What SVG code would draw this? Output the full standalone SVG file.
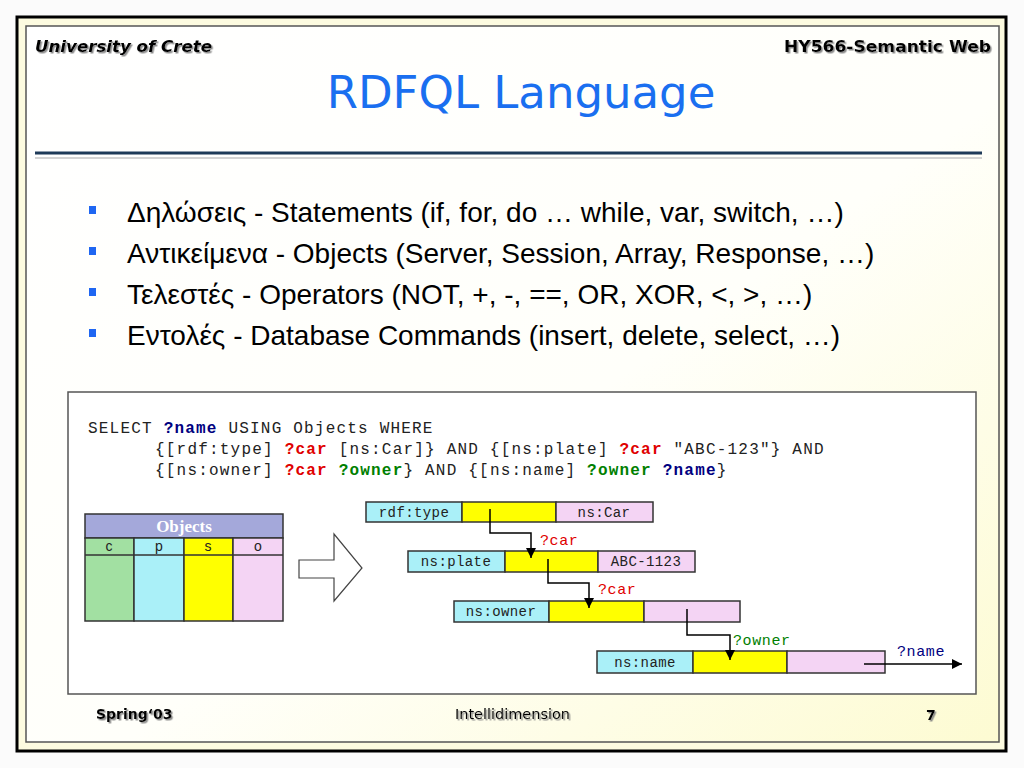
<svg xmlns="http://www.w3.org/2000/svg" width="1024" height="768" viewBox="0 0 1024 768">
<defs>
<linearGradient id="bg" x1="0" y1="0" x2="1" y2="1">
<stop offset="0" stop-color="#ffffff"/>
<stop offset="0.55" stop-color="#fffffa"/>
<stop offset="1" stop-color="#fdfbd2"/>
</linearGradient>
<filter id="sh" x="-10%" y="-30%" width="120%" height="160%">
<feDropShadow dx="1.5" dy="1.5" stdDeviation="0.6" flood-color="#808080" flood-opacity="0.9"/>
</filter>
<marker id="ah" viewBox="0 0 10 10" refX="10" refY="5" markerWidth="10" markerHeight="10" markerUnits="userSpaceOnUse" orient="auto">
<path d="M0,0 L10,5 L0,10 Z" fill="#000"/>
</marker>
<style>
.hdr{font-family:"DejaVu Sans",Verdana,sans-serif;font-weight:bold;font-size:15px;fill:#000}
.ttl{font-family:"DejaVu Sans",Verdana,sans-serif;font-size:45px;fill:#1a6ff0}
.bul{font-family:"Liberation Sans",Arial,sans-serif;font-size:28px;fill:#000}
.sq{fill:#1f66f2}
.code{font-family:"Liberation Mono","Courier New",monospace;font-size:16px;letter-spacing:1.2px;fill:#222}
.b{font-weight:bold}
.red{fill:#e00000}
.grn{fill:#008000}
.nav{fill:#000080}
.cell{stroke:#333;stroke-width:1.5}
.cy{fill:#aaf0f8}
.ye{fill:#ffff00}
.pk{fill:#f4d4f4}
.gr{fill:#a2e0a2}
.bt{font-family:"Liberation Mono","Courier New",monospace;font-size:14px;letter-spacing:0.4px;fill:#222;text-anchor:middle}
.lbl{font-family:"Liberation Mono","Courier New",monospace;font-size:15px;letter-spacing:0.6px}
.col{font-family:"Liberation Sans",Arial,sans-serif;font-size:14px;fill:#222;text-anchor:middle}
.conn{fill:none;stroke:#000;stroke-width:1.5}
.ftr{font-family:"DejaVu Sans",Tahoma,sans-serif;font-size:14px;fill:#000}
</style>
</defs>

<!-- slide frame -->
<rect x="0" y="0" width="1024" height="768" fill="#fbfbfb"/>
<rect x="17" y="17" width="989" height="734" fill="#fdfbe0" stroke="#000" stroke-width="3"/>
<rect x="26" y="26" width="973" height="716" fill="url(#bg)" stroke="#555" stroke-width="1.5"/>

<!-- header -->
<g id="header">
<text class="hdr" x="35" y="52" font-style="italic" textLength="177" lengthAdjust="spacingAndGlyphs" filter="url(#sh)">University of Crete</text>
<text class="hdr" x="991" y="52" text-anchor="end" textLength="207" lengthAdjust="spacingAndGlyphs" filter="url(#sh)">HY566-Semantic Web</text>
<text class="ttl" x="521" y="108" text-anchor="middle">RDFQL Language</text>
<line x1="35" y1="153" x2="982" y2="153" stroke="#1e3a58" stroke-width="3"/>
<line x1="35" y1="158" x2="982" y2="158" stroke="#c4c4c4" stroke-width="1.5"/>
</g>

<!-- bullets -->
<g id="bullets">
<rect class="sq" x="89" y="206" width="7" height="8"/>
<text class="bul" x="127" y="222">Δηλώσεις - Statements (if, for, do … while, var, switch, …)</text>
<rect class="sq" x="89" y="247" width="7" height="8"/>
<text class="bul" x="127" y="263">Αντικείμενα - Objects (Server, Session, Array, Response, …)</text>
<rect class="sq" x="89" y="288" width="7" height="8"/>
<text class="bul" x="127" y="304">Τελεστές - Operators (NOT, +, -, ==, OR, XOR, &lt;, &gt;, …)</text>
<rect class="sq" x="89" y="329" width="7" height="8"/>
<text class="bul" x="127" y="345">Εντολές - Database Commands (insert, delete, select, …)</text>
</g>

<!-- code box -->
<g id="codebox">
<rect x="68" y="392" width="908" height="302" fill="#fff" stroke="#555" stroke-width="1.5"/>
<text class="code" x="88" y="433" xml:space="preserve">SELECT <tspan class="b nav">?name</tspan> USING Objects WHERE</text>
<text class="code" x="155" y="454" xml:space="preserve">{[rdf:type] <tspan class="b red">?car</tspan> [ns:Car]} AND {[ns:plate] <tspan class="b red">?car</tspan> "ABC-123"} AND</text>
<text class="code" x="155" y="475" xml:space="preserve">{[ns:owner] <tspan class="b red">?car</tspan> <tspan class="b grn">?owner</tspan>} AND {[ns:name] <tspan class="b grn">?owner</tspan> <tspan class="b nav">?name</tspan>}</text>
</g>

<!-- Objects table -->
<g id="objects-table">
<rect x="85" y="514" width="198" height="24" fill="#a4a8da" class="cell"/>
<text x="184" y="532" text-anchor="middle" font-family="Liberation Serif,Times New Roman,serif" font-weight="bold" font-size="17" fill="#fff">Objects</text>
<rect class="cell gr" x="85" y="538" width="49" height="83"/>
<rect class="cell cy" x="134" y="538" width="50" height="83"/>
<rect class="cell ye" x="184" y="538" width="49" height="83"/>
<rect class="cell pk" x="233" y="538" width="50" height="83"/>
<line class="cell" x1="85" y1="555" x2="283" y2="555"/>
<text class="col" x="109" y="551">c</text>
<text class="col" x="159" y="551">p</text>
<text class="col" x="208" y="551">s</text>
<text class="col" x="258" y="551">o</text>
</g>

<!-- big hollow arrow -->
<g id="transform-arrow">
<polygon points="299,560 334,560 334,534 362,568 334,601 334,578 299,578" fill="#fff" stroke="#444" stroke-width="1.2"/>
</g>

<!-- triple rows -->
<g id="row-rdftype">
<rect class="cell cy" x="366" y="502" width="96" height="20"/>
<rect class="cell ye" x="462" y="502" width="94" height="20"/>
<rect class="cell pk" x="556" y="502" width="97" height="20"/>
<text class="bt" x="414" y="517">rdf:type</text>
<text class="bt" x="604" y="517">ns:Car</text>
</g>
<g id="row-nsplate">
<rect class="cell cy" x="408" y="551" width="97" height="21"/>
<rect class="cell ye" x="505" y="551" width="93" height="21"/>
<rect class="cell pk" x="598" y="551" width="97" height="21"/>
<text class="bt" x="456" y="566">ns:plate</text>
<text class="bt" x="646" y="566">ABC-1123</text>
</g>
<g id="row-nsowner">
<rect class="cell cy" x="454" y="601" width="95" height="21"/>
<rect class="cell ye" x="549" y="601" width="95" height="21"/>
<rect class="cell pk" x="644" y="601" width="96" height="21"/>
<text class="bt" x="501" y="616">ns:owner</text>
</g>
<g id="row-nsname">
<rect class="cell cy" x="597" y="651" width="96" height="22"/>
<rect class="cell ye" x="693" y="651" width="94" height="22"/>
<rect class="cell pk" x="787" y="651" width="98" height="22"/>
<text class="bt" x="645" y="667">ns:name</text>
</g>

<!-- connectors -->
<g id="connectors">
<path class="conn" d="M490,509 V533 H531 V558" marker-end="url(#ah)"/>
<path class="conn" d="M548,559 V583 H589 V608" marker-end="url(#ah)"/>
<path class="conn" d="M687,609 V635 H730 V660" marker-end="url(#ah)"/>
<path class="conn" d="M864,664 H962" marker-end="url(#ah)"/>
<text class="lbl red" x="540" y="545">?car</text>
<text class="lbl red" x="598" y="594">?car</text>
<text class="lbl grn" x="733" y="645">?owner</text>
<text class="lbl nav" x="897" y="656">?name</text>
</g>

<!-- footer -->
<g id="footer">
<text class="ftr" x="96" y="719" font-weight="bold" filter="url(#sh)">Spring‘03</text>
<text class="ftr" x="455" y="719" textLength="115" lengthAdjust="spacingAndGlyphs" filter="url(#sh)">Intellidimension</text>
<text class="ftr" x="926" y="720" font-weight="bold" font-size="16" filter="url(#sh)">7</text>
</g>
</svg>
